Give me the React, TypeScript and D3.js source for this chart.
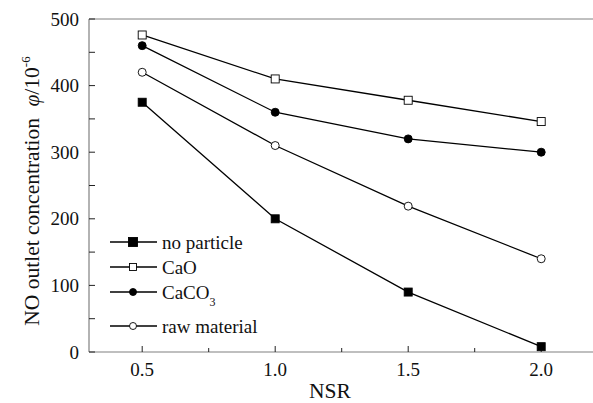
import { useRef, useEffect } from 'react';
import * as d3 from 'd3';

const nsr = [0.5, 1.0, 1.5, 2.0];
const noParticle = [375, 200, 90, 8];
const caO = [476, 410, 378, 346];
const caCO3 = [460, 360, 320, 300];
const rawMaterial = [420, 310, 219, 140];
const xTicks = [0.5, 1.0, 1.5, 2.0];
const yTicks = [0, 100, 200, 300, 400, 500];

const series = [
  { name: 'no particle', values: noParticle, shape: 'square', filled: true },
  { name: 'CaO', values: caO, shape: 'square', filled: false },
  { name: 'CaCO3', values: caCO3, shape: 'circle', filled: true },
  { name: 'raw material', values: rawMaterial, shape: 'circle', filled: false },
];

export default function App() {
  const ref = useRef<SVGSVGElement>(null);

  useEffect(() => {
    const svg = d3.select(ref.current);
    svg.selectAll('*').remove();

    const left = 89, right = 593, top = 19, bottom = 352;
    const font = '"Liberation Serif", "Times New Roman", serif';
    const axisColor = '#808080';
    const fs = 19;
    const titleFs = 21.5;

    const x = d3.scaleLinear().domain([0.3, 2.2]).range([left, left + 133 * 3.8]);
    const y = d3.scaleLinear().domain([0, 500]).range([bottom, top]);

    // frame: top, left, bottom
    svg.append('line').attr('x1', left).attr('x2', right).attr('y1', top).attr('y2', top)
      .attr('stroke', axisColor).attr('stroke-width', 1);
    svg.append('line').attr('x1', left).attr('x2', right).attr('y1', bottom).attr('y2', bottom)
      .attr('stroke', axisColor).attr('stroke-width', 1.2);
    svg.append('line').attr('x1', left).attr('x2', left).attr('y1', top).attr('y2', bottom)
      .attr('stroke', axisColor).attr('stroke-width', 1.2);

    // y ticks (inward)
    d3.range(0, 501, 50).forEach(v => {
      svg.append('line').attr('x1', left).attr('x2', left + 6)
        .attr('y1', y(v)).attr('y2', y(v)).attr('stroke', '#222').attr('stroke-width', 1);
    });
    yTicks.forEach(v => {
      svg.append('text').attr('x', left - 10).attr('y', y(v)).attr('dy', '0.35em')
        .attr('text-anchor', 'end').attr('font-family', font).attr('font-size', fs)
        .attr('fill', '#111').text(v);
    });

    // x ticks (inward)
    d3.range(0.5, 2.01, 0.25).forEach(v => {
      const major = Math.abs(v * 2 - Math.round(v * 2)) < 1e-6;
      svg.append('line').attr('x1', x(v)).attr('x2', x(v))
        .attr('y1', bottom).attr('y2', bottom - (major ? 6 : 4))
        .attr('stroke', '#222').attr('stroke-width', 1);
    });
    xTicks.forEach(v => {
      svg.append('text').attr('x', x(v)).attr('y', 376)
        .attr('text-anchor', 'middle').attr('font-family', font).attr('font-size', fs)
        .attr('fill', '#111').text(v.toFixed(1));
    });

    // axis titles
    svg.append('text').attr('x', 330).attr('y', 398)
      .attr('text-anchor', 'middle').attr('font-family', font).attr('font-size', titleFs)
      .attr('fill', '#111').text('NSR');

    const yt = svg.append('text').attr('transform', `translate(39,191) rotate(-90)`)
      .attr('text-anchor', 'middle').attr('font-family', font).attr('font-size', titleFs).attr('fill', '#111');
    yt.append('tspan').text('NO outlet concentration ');
    yt.append('tspan').attr('dx', 6).attr('font-style', 'italic').text('φ');
    yt.append('tspan').text('/10');
    yt.append('tspan').attr('font-size', 13).attr('dy', -9).text('-6');

    const drawMarker = (g: any, cx: number, cy: number, s: any, size: number) => {
      if (s.shape === 'square') {
        g.append('rect').attr('x', cx - size / 2).attr('y', cy - size / 2)
          .attr('width', size).attr('height', size)
          .attr('fill', s.filled ? '#000' : '#fff').attr('stroke', '#000').attr('stroke-width', 0.9);
      } else {
        g.append('circle').attr('cx', cx).attr('cy', cy).attr('r', size / 2)
          .attr('fill', s.filled ? '#000' : '#fff').attr('stroke', '#000').attr('stroke-width', 0.9);
      }
    };

    const line = d3.line<number>().x((_, i) => x(nsr[i])).y(d => y(d));

    series.forEach(s => {
      const g = svg.append('g');
      g.append('path').attr('d', line(s.values)).attr('fill', 'none')
        .attr('stroke', '#000').attr('stroke-width', 1.3);
      s.values.forEach((v, i) => drawMarker(g, x(nsr[i]), y(v), s, 8));
    });

    // legend
    const legY = [242, 267, 292, 326];
    series.forEach((s, i) => {
      const g = svg.append('g');
      const ly = legY[i];
      g.append('line').attr('x1', 110).attr('x2', 157).attr('y1', ly).attr('y2', ly)
        .attr('stroke', '#000').attr('stroke-width', 1.3);
      drawMarker(g, 133, ly, s, s.filled && s.shape === 'square' ? 9 : 7);
      const t = g.append('text').attr('x', 162).attr('y', ly).attr('dy', '0.35em')
        .attr('font-family', font).attr('font-size', fs).attr('fill', '#111');
      if (s.name === 'CaCO3') {
        t.append('tspan').text('CaCO');
        t.append('tspan').attr('font-size', 12).attr('dy', 7).text('3');
      } else {
        t.text(s.name);
      }
    });
  }, []);

  return (
    <svg ref={ref} width={593} height={403}
      style={{ position: 'absolute', left: 0, top: 0, background: '#fff' }} />
  );
}
